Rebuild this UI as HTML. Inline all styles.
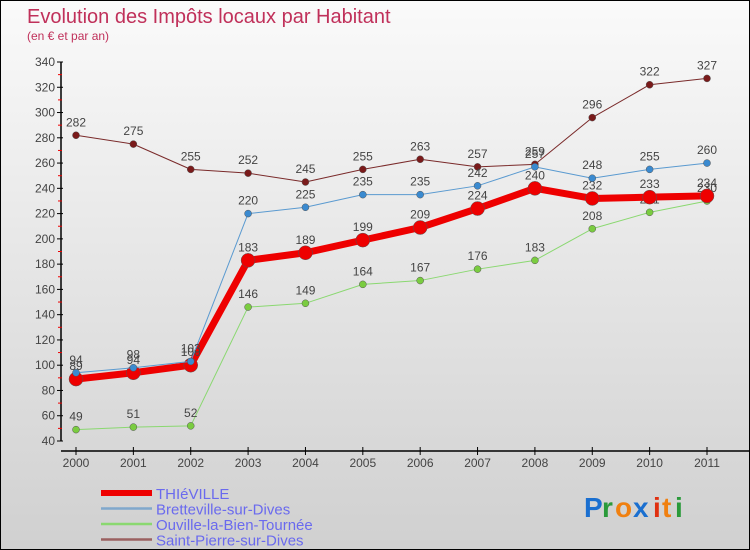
<!DOCTYPE html>
<html><head><meta charset="utf-8"><style>
body{margin:0;}
#wrap{width:750px;height:550px;position:relative;overflow:hidden;box-sizing:border-box;border:1px solid #000;background:linear-gradient(#fafafa,#d0d0d0);font-family:"Liberation Sans",sans-serif;}
svg{position:absolute;left:0;top:0;}
</style></head><body>
<div id="wrap">
<svg id="chart" width="750" height="550">
<text x="26" y="22" font-size="20" fill="#c0305a">Evolution des Impôts locaux par Habitant</text>
<text x="26" y="39" font-size="12" fill="#c0305a">(en € et par an)</text>
<g id="axes"></g><g id="series"></g><g id="legend"></g>
<g font-size="28" font-weight="bold">
<text x="583" y="516" fill="#1a6fd0">P</text><text x="601" y="516" fill="#2a9a3a">r</text><text x="614" y="516" fill="#f08010">o</text><text x="632" y="516" fill="#1a6fd0">x</text><text x="652" y="516" fill="#e03010">i</text><text x="661" y="516" fill="#f08010">t</text><text x="674" y="516" fill="#2a9a3a">i</text>
</g>
</svg>
</div>
<script>
const years=["2000","2001","2002","2003","2004","2005","2006","2007","2008","2009","2010","2011"];
const thieville=[89,94,100,183,189,199,209,224,240,232,233,234];
const bretteville=[94,98,103,220,225,235,235,242,257,248,255,260];
const ouville=[49,51,52,146,149,164,167,176,183,208,221,230];
const stpierre=[282,275,255,252,245,255,263,257,259,296,322,327];
const yTicks=[40,60,80,100,120,140,160,180,200,220,240,260,280,300,320,340];
const NS="http://www.w3.org/2000/svg";
function xs(i){return 75+i*(706-75)/11;}
function ys(v){return 440-(v-40)*(379/300);}
function mk(t,a,p){const e=document.createElementNS(NS,t);for(const k in a)e.setAttribute(k,a[k]);p.appendChild(e);return e;}
const ax=document.getElementById('axes');
let l=mk('line',{x1:60,y1:ys(340),x2:60,y2:ys(40),stroke:'#000','stroke-width':1.5},ax);


yTicks.forEach(v=>{
 mk('line',{x1:56,y1:ys(v),x2:62,y2:ys(v),stroke:'#000'},ax);
 if(v<340)mk('line',{x1:57,y1:ys(v+10),x2:61,y2:ys(v+10),stroke:'#e00'},ax);
 const t=mk('text',{x:54,y:ys(v)+4,'text-anchor':'end','font-size':12,fill:'#444'},ax);t.textContent=v;
 
 
});
l=mk('line',{x1:60,y1:450,x2:750,y2:450,stroke:'#000','stroke-width':1.5},ax);


years.forEach((y,i)=>{
 mk('line',{x1:xs(i),y1:446,x2:xs(i),y2:454,stroke:'#000'},ax);
 const t=mk('text',{x:xs(i),y:466,'text-anchor':'middle','font-size':12,fill:'#444'},ax);t.textContent=y;
 
 
});
const S=document.getElementById('series');
const defs=[
 {d:stpierre,c:'#7a2a2a',w:1,r:3.5,fc:'#7a1a1a',n:'saint-pierre-sur-dives',lab:'Saint-Pierre-sur-Dives',lc:'#9a6060'},
 {d:ouville,c:'#8ad870',w:1,r:3.5,fc:'#7acc40',n:'ouville-la-bien-tournee',lab:'Ouville-la-Bien-Tournée',lc:'#8ad870'},
 {d:thieville,c:'#ee0000',w:7,r:7,fc:'#ee0000',n:'thieville',lab:'THIéVILLE',lc:'#ee0000'},
 {d:bretteville,c:'#5a9ad0',w:1,r:3.5,fc:'#3a8ad0',n:'bretteville-sur-dives',lab:'Bretteville-sur-Dives',lc:'#80a8cc'}
];
defs.forEach(s=>{
 const g=mk('g',{},S);
 
 
 const p=mk('polyline',{points:s.d.map((v,i)=>xs(i)+','+ys(v)).join(' '),fill:'none',stroke:s.c,'stroke-width':s.w,'stroke-linejoin':'round'},g);
 
 
 s.d.forEach((v,i)=>{
  const c=mk('circle',{cx:xs(i),cy:ys(v),r:s.r,fill:s.fc,stroke:'#555','stroke-width':0.5},g);
  
  
  const t=mk('text',{x:xs(i),y:ys(v)-9,'text-anchor':'middle','font-size':12,fill:'#444'},g);t.textContent=v;
  
  
 });
});
const L=document.getElementById('legend');
const order=[2,3,1,0];
order.forEach((k,j)=>{
 const s=defs[k],y=492+j*15.5;
 const g=mk('g',{},L);
 
 
 mk('line',{x1:100,y1:y,x2:151,y2:y,stroke:s.lc,'stroke-width':k==2?6:2.5},g);
 const t=mk('text',{x:155,y:y+6,'font-size':15,fill:'#6a6aee'},g);t.textContent=s.lab;
});
</script>
</body></html>
